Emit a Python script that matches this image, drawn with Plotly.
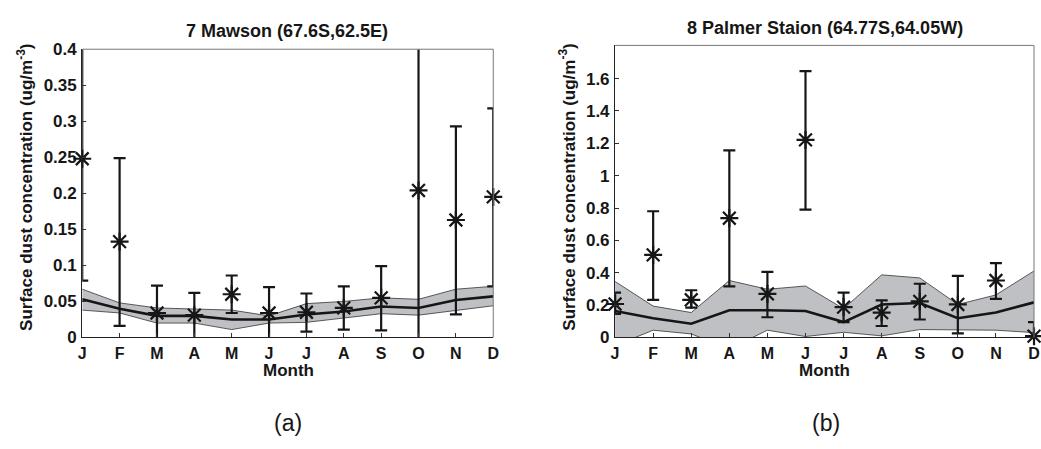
import plotly.graph_objects as go

months = ["J", "F", "M", "A", "M", "J", "J", "A", "S", "O", "N", "D"]
month_idx = list(range(1, 13))

# Panel (a): 7 Mawson
a_obs = [0.248, 0.133, 0.034, 0.031, 0.060, 0.034, 0.035, 0.041, 0.055, 0.204, 0.163, 0.195]
a_obs_hi = [0.45, 0.249, 0.072, 0.062, 0.086, 0.070, 0.061, 0.071, 0.099, 0.45, 0.293, 0.318]
a_obs_lo = [0.079, 0.016, -0.01, -0.01, 0.034, -0.01, 0.008, 0.011, 0.010, -0.01, 0.032, 0.071]
a_mod = [0.053, 0.040, 0.030, 0.030, 0.025, 0.025, 0.032, 0.036, 0.043, 0.041, 0.052, 0.057]
a_mod_hi = [0.067, 0.048, 0.041, 0.040, 0.038, 0.030, 0.047, 0.050, 0.055, 0.053, 0.067, 0.071]
a_mod_lo = [0.038, 0.034, 0.020, 0.020, 0.011, 0.020, 0.021, 0.027, 0.033, 0.031, 0.038, 0.044]
a_yticks = [0, 0.05, 0.1, 0.15, 0.2, 0.25, 0.3, 0.35, 0.4]
a_yticktext = ["0", "0.05", "0.1", "0.15", "0.2", "0.25", "0.3", "0.35", "0.4"]

# Panel (b): 8 Palmer Staion
b_obs = [0.207, 0.51, 0.233, 0.737, 0.269, 1.221, 0.188, 0.154, 0.223, 0.204, 0.352, 0.008]
b_obs_hi = [0.277, 0.78, 0.292, 1.156, 0.405, 1.646, 0.277, 0.229, 0.332, 0.381, 0.46, 0.095]
b_obs_lo = [0.146, 0.233, 0.184, 0.316, 0.125, 0.79, 0.095, 0.071, 0.111, 0.026, 0.239, -0.07]
b_mod = [0.164, 0.119, 0.085, 0.168, 0.168, 0.164, 0.095, 0.204, 0.213, 0.119, 0.154, 0.217]
b_mod_hi = [0.346, 0.194, 0.154, 0.352, 0.298, 0.318, 0.178, 0.387, 0.368, 0.204, 0.263, 0.411]
b_mod_lo = [-0.05, 0.045, 0.022, -0.07, 0.045, 0.006, 0.032, 0.010, 0.049, 0.045, 0.045, 0.030]
b_yticks = [0, 0.2, 0.4, 0.6, 0.8, 1.0, 1.2, 1.4, 1.6]
b_yticktext = ["0", "0.2", "0.4", "0.6", "0.8", "1", "1.2", "1.4", "1.6"]

FONT = "Arial, Liberation Sans, Helvetica, sans-serif"
W, H = 1041, 449
FILL = "#bfc0c3"
INK = "#161616"

fig = go.Figure()


def add_panel(xa, ya, obs, hi, lo, mod, mhi, mlo):
    fig.add_trace(go.Scatter(x=month_idx, y=mlo, mode="lines",
                             line=dict(color="#333333", width=0.8),
                             xaxis=xa, yaxis=ya, showlegend=False, hoverinfo="skip"))
    fig.add_trace(go.Scatter(x=month_idx, y=mhi, mode="lines", fill="tonexty",
                             fillcolor=FILL, line=dict(color="#333333", width=0.8),
                             xaxis=xa, yaxis=ya, showlegend=False, hoverinfo="skip"))
    fig.add_trace(go.Scatter(x=month_idx, y=mod, mode="lines",
                             line=dict(color=INK, width=2.6),
                             xaxis=xa, yaxis=ya, showlegend=False))
    fig.add_trace(go.Scatter(x=month_idx, y=obs, mode="markers",
                             marker=dict(size=1, color="rgba(0,0,0,0)"),
                             error_y=dict(type="data", symmetric=False,
                                          array=[h - o for h, o in zip(hi, obs)],
                                          arrayminus=[o - l for o, l in zip(obs, lo)],
                                          color=INK, thickness=2.2, width=6),
                             xaxis=xa, yaxis=ya, showlegend=False))
    fig.add_trace(go.Scatter(x=month_idx, y=obs, mode="markers", cliponaxis=False,
                             marker=dict(symbol="asterisk-open", size=15, color=INK,
                                         line=dict(color=INK, width=2.2)),
                             xaxis=xa, yaxis=ya, showlegend=False))


add_panel("x", "y", a_obs, a_obs_hi, a_obs_lo, a_mod, a_mod_hi, a_mod_lo)
add_panel("x2", "y2", b_obs, b_obs_hi, b_obs_lo, b_mod, b_mod_hi, b_mod_lo)

# domains in pixels
ax_a = dict(l=79, r=494, t=42, b=343)
ax_b = dict(l=617, r=1040, t=38, b=343)


def dom_x(p):
    return [p["l"] / W, p["r"] / W]


def dom_y(p):
    return [(H - p["b"]) / H, (H - p["t"]) / H]


xcommon = dict(range=[1, 12], tickvals=month_idx, ticktext=months,
               ticks="inside", ticklen=4, tickcolor="#333333",
               showline=True, linecolor="#222222", linewidth=1,
               showgrid=False, zeroline=False, ticklabelstandoff=1,
               tickfont=dict(family=FONT, size=16, color=INK, weight="bold"))
ycommon = dict(ticks="inside", ticklen=4, tickcolor="#333333",
               showline=True, linecolor="#222222", linewidth=1.2,
               showgrid=False, zeroline=False, ticklabelstandoff=1,
               tickfont=dict(family=FONT, size=17, color=INK, weight="bold"))

fig.update_layout(
    width=W, height=H,
    margin=dict(l=0, r=0, t=0, b=0),
    paper_bgcolor="white", plot_bgcolor="white",
    xaxis=dict(domain=dom_x(ax_a), anchor="y", **xcommon),
    yaxis=dict(domain=dom_y(ax_a), anchor="x", range=[0, 0.4],
               tickvals=a_yticks, ticktext=a_yticktext, **ycommon),
    xaxis2=dict(domain=dom_x(ax_b), anchor="y2", **xcommon),
    yaxis2=dict(domain=dom_y(ax_b), anchor="x2", range=[0, 1.805],
                tickvals=b_yticks, ticktext=b_yticktext, **ycommon),
)

# gray top / right frame lines
for xr, yr in (("x domain", "y domain"), ("x2 domain", "y2 domain")):
    fig.add_shape(type="line", xref=xr, yref=yr, x0=0, x1=1, y0=1, y1=1,
                  line=dict(color="#777777", width=1))
    fig.add_shape(type="line", xref=xr, yref=yr, x0=1, x1=1, y0=0, y1=1,
                  line=dict(color="#777777", width=1))


def px(x, y):
    return x / W, 1 - y / H


def add_text(x, y, text, size, bold=True, angle=0):
    xx, yy = px(x, y)
    fig.add_annotation(x=xx, y=yy, xref="paper", yref="paper", text=text,
                       showarrow=False, textangle=angle, xanchor="center", yanchor="middle",
                       font=dict(family=FONT, size=size, color=INK,
                                 weight="bold" if bold else "normal"))


add_text(286, 23, "7 Mawson (67.6S,62.5E)", 18)
add_text(829, 20, "8 Palmer Staion (64.77S,64.05W)", 18)
add_text(21, 186, "Surface dust concentration (ug/m<sup>-3</sup>)", 17, angle=-90)
add_text(569, 186, "Surface dust concentration (ug/m<sup>-3</sup>)", 17, angle=-90)
add_text(287, 377, "Month", 17)
add_text(828, 377, "Month", 17)
add_text(287, 432, "(a)", 23, bold=False)
add_text(830, 432, "(b)", 23, bold=False)

fig.write_html("out.html")
